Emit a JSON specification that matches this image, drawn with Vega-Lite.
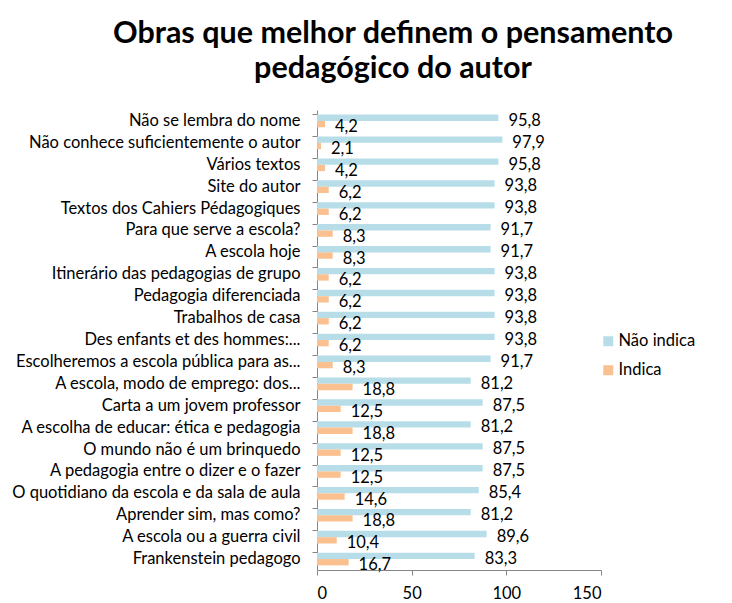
{
  "$schema": "https://vega.github.io/schema/vega-lite/v6.json",
  "width": 284,
  "height": 460,
  "autosize": {"type": "none"},
  "padding": {"left": 317, "top": 110, "right": 131, "bottom": 33},
  "background": "white",
  "title": {
    "text": ["Obras que melhor definem o pensamento", "pedagógico do autor"],
    "font": "Lato",
    "fontSize": 30.5,
    "fontWeight": "bold",
    "color": "#000000",
    "anchor": "middle",
    "frame": "group",
    "dx": -66,
    "lineHeight": 35,
    "offset": 26
  },
  "config": {
    "font": "Lato",
    "view": {"stroke": null},
    "locale": {"number": {"decimal": ",", "thousands": ".", "grouping": [3], "currency": ["", ""]}}
  },
  "data": {
    "values": [
      {"obra": "Não se lembra do nome", "serie": "Não indica", "valor": 95.8},
      {"obra": "Não se lembra do nome", "serie": "Indica", "valor": 4.2},
      {"obra": "Não conhece suficientemente o autor", "serie": "Não indica", "valor": 97.9},
      {"obra": "Não conhece suficientemente o autor", "serie": "Indica", "valor": 2.1},
      {"obra": "Vários textos", "serie": "Não indica", "valor": 95.8},
      {"obra": "Vários textos", "serie": "Indica", "valor": 4.2},
      {"obra": "Site do autor", "serie": "Não indica", "valor": 93.8},
      {"obra": "Site do autor", "serie": "Indica", "valor": 6.2},
      {"obra": "Textos dos Cahiers Pédagogiques", "serie": "Não indica", "valor": 93.8},
      {"obra": "Textos dos Cahiers Pédagogiques", "serie": "Indica", "valor": 6.2},
      {"obra": "Para que serve a escola?", "serie": "Não indica", "valor": 91.7},
      {"obra": "Para que serve a escola?", "serie": "Indica", "valor": 8.3},
      {"obra": "A escola hoje", "serie": "Não indica", "valor": 91.7},
      {"obra": "A escola hoje", "serie": "Indica", "valor": 8.3},
      {"obra": "Itinerário das pedagogias de grupo", "serie": "Não indica", "valor": 93.8},
      {"obra": "Itinerário das pedagogias de grupo", "serie": "Indica", "valor": 6.2},
      {"obra": "Pedagogia diferenciada", "serie": "Não indica", "valor": 93.8},
      {"obra": "Pedagogia diferenciada", "serie": "Indica", "valor": 6.2},
      {"obra": "Trabalhos de casa", "serie": "Não indica", "valor": 93.8},
      {"obra": "Trabalhos de casa", "serie": "Indica", "valor": 6.2},
      {"obra": "Des enfants et des hommes:...", "serie": "Não indica", "valor": 93.8},
      {"obra": "Des enfants et des hommes:...", "serie": "Indica", "valor": 6.2},
      {"obra": "Escolheremos a escola pública para as...", "serie": "Não indica", "valor": 91.7},
      {"obra": "Escolheremos a escola pública para as...", "serie": "Indica", "valor": 8.3},
      {"obra": "A escola, modo de emprego: dos...", "serie": "Não indica", "valor": 81.2},
      {"obra": "A escola, modo de emprego: dos...", "serie": "Indica", "valor": 18.8},
      {"obra": "Carta a um jovem professor", "serie": "Não indica", "valor": 87.5},
      {"obra": "Carta a um jovem professor", "serie": "Indica", "valor": 12.5},
      {"obra": "A escolha de educar: ética e pedagogia", "serie": "Não indica", "valor": 81.2},
      {"obra": "A escolha de educar: ética e pedagogia", "serie": "Indica", "valor": 18.8},
      {"obra": "O mundo não é um brinquedo", "serie": "Não indica", "valor": 87.5},
      {"obra": "O mundo não é um brinquedo", "serie": "Indica", "valor": 12.5},
      {"obra": "A pedagogia entre o dizer e o fazer", "serie": "Não indica", "valor": 87.5},
      {"obra": "A pedagogia entre o dizer e o fazer", "serie": "Indica", "valor": 12.5},
      {"obra": "O quotidiano da escola e da sala de aula", "serie": "Não indica", "valor": 85.4},
      {"obra": "O quotidiano da escola e da sala de aula", "serie": "Indica", "valor": 14.6},
      {"obra": "Aprender sim, mas como?", "serie": "Não indica", "valor": 81.2},
      {"obra": "Aprender sim, mas como?", "serie": "Indica", "valor": 18.8},
      {"obra": "A escola ou a guerra civil", "serie": "Não indica", "valor": 89.6},
      {"obra": "A escola ou a guerra civil", "serie": "Indica", "valor": 10.4},
      {"obra": "Frankenstein  pedagogo", "serie": "Não indica", "valor": 83.3},
      {"obra": "Frankenstein  pedagogo", "serie": "Indica", "valor": 16.7}
    ]
  },
  "encoding": {
    "y": {
      "field": "obra",
      "type": "nominal",
      "sort": null,
      "scale": {"paddingInner": 0.42, "paddingOuter": 0.21},
      "axis": {
        "title": null,
        "labelFontSize": 16.5,
        "labelColor": "#000000",
        "labelLimit": 320,
        "labelPadding": 12,
        "bandPosition": 0,
        "tickSize": 5,
        "tickColor": "#868686",
        "domainColor": "#868686",
        "grid": false
      }
    },
    "yOffset": {"field": "serie", "type": "nominal", "sort": ["Não indica", "Indica"], "scale": {"paddingInner": 0}},
    "x": {
      "field": "valor",
      "type": "quantitative",
      "scale": {"domain": [0, 150], "nice": false},
      "axis": {
        "title": null,
        "values": [0, 50, 100, 150],
        "labelFontSize": 16.5,
        "labelColor": "#000000",
        "labelPadding": 10,
        "tickSize": 5,
        "tickColor": "#868686",
        "domainColor": "#868686",
        "grid": false
      }
    }
  },
  "layer": [
    {
      "mark": {"type": "bar"},
      "encoding": {
        "color": {
          "field": "serie",
          "type": "nominal",
          "sort": ["Não indica", "Indica"],
          "scale": {"domain": ["Não indica", "Indica"], "range": ["#B7DEE8", "#FAC090"]},
          "legend": {
            "title": null,
            "orient": "none",
            "legendX": 283,
            "legendY": 223,
            "symbolType": "square",
            "symbolSize": 100,
            "symbolStrokeWidth": 0,
            "labelFontSize": 16.5,
            "labelColor": "#000000",
            "rowPadding": 12,
            "labelOffset": 2
          }
        }
      }
    },
    {
      "mark": {"type": "text", "align": "left", "baseline": "middle", "dx": 10, "dy": 3, "fontSize": 16.5, "color": "#000000"},
      "encoding": {
        "text": {"field": "valor", "type": "quantitative", "format": ".1f"}
      }
    }
  ]
}
